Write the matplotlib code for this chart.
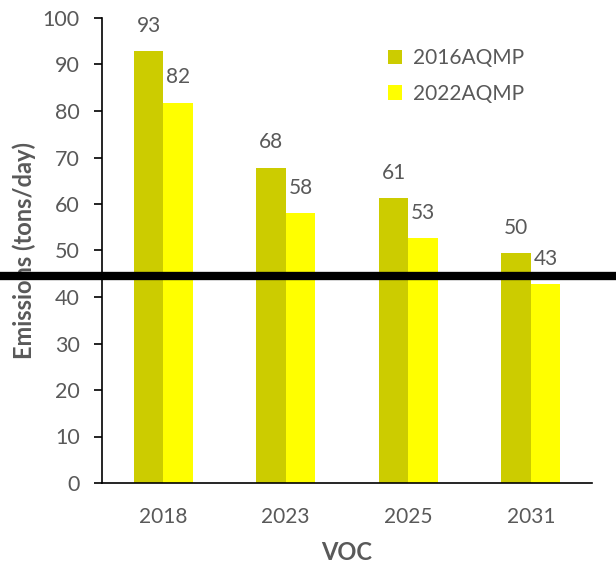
import matplotlib.pyplot as plt
import matplotlib.transforms as mtransforms
import numpy as np

years = ['2018', '2023', '2025', '2031']
aqmp_2016 = [92.9, 67.8, 61.3, 49.5]
aqmp_2022 = [81.8, 58.0, 52.7, 42.8]
labels_2016 = ['93', '68', '61', '50']
labels_2022 = ['82', '58', '53', '43']
cutoff_level = 44.5

plt.rcParams['font.family'] = ['Lato', 'DejaVu Sans']
grey = '#595959'

fig = plt.figure(figsize=(6.16, 5.65), dpi=100)
ax = fig.add_axes([102 / 616, 1 - 483 / 565, 490 / 616, 465 / 565])

x = np.arange(len(years))
w = 0.24
b1 = ax.bar(x - w / 2, aqmp_2016, w, color='#CCCC00', label='2016AQMP')
b2 = ax.bar(x + w / 2, aqmp_2022, w, color='#FFFF00', label='2022AQMP')

# value labels above bars
for bars, labs in [(b1, labels_2016), (b2, labels_2022)]:
    for rect, lab in zip(bars, labs):
        ax.annotate(lab, (rect.get_x() + rect.get_width() / 2, rect.get_height()),
                    xytext=(0, 11), textcoords='offset points', ha='center', va='bottom',
                    fontsize=15, color=grey)

ax.set_xlim(-0.5, 3.5)
ax.set_ylim(0, 100)
ax.set_yticks(np.arange(0, 101, 10))
ax.set_xticks(x)
ax.set_xticklabels(years)
ax.tick_params(axis='y', labelsize=15.5, labelcolor=grey, length=6, width=1.2,
               direction='out', pad=10)
ax.tick_params(axis='x', labelsize=15, labelcolor=grey, length=0, pad=17)
for s in ['top', 'right']:
    ax.spines[s].set_visible(False)
for s in ['left', 'bottom']:
    ax.spines[s].set_linewidth(1.2)

ax.set_xlabel('VOC', fontsize=17, fontweight='bold', color=grey, labelpad=10)
ax.set_ylabel('Emissions (tons/day)', fontsize=17, fontweight='bold', color=grey, labelpad=5)

ax.legend(loc='upper left', bbox_to_anchor=(0.545, 0.975), frameon=False, fontsize=15,
          labelcolor=grey, handlelength=0.7, handleheight=0.7, handletextpad=0.5,
          labelspacing=0.75)

# thick black line across the whole figure
trans = mtransforms.blended_transform_factory(fig.transFigure, ax.transData)
ax.plot([0, 1], [cutoff_level, cutoff_level], color='black', linewidth=6,
        transform=trans, clip_on=False, zorder=10)

fig.savefig('out.png', dpi=100)
